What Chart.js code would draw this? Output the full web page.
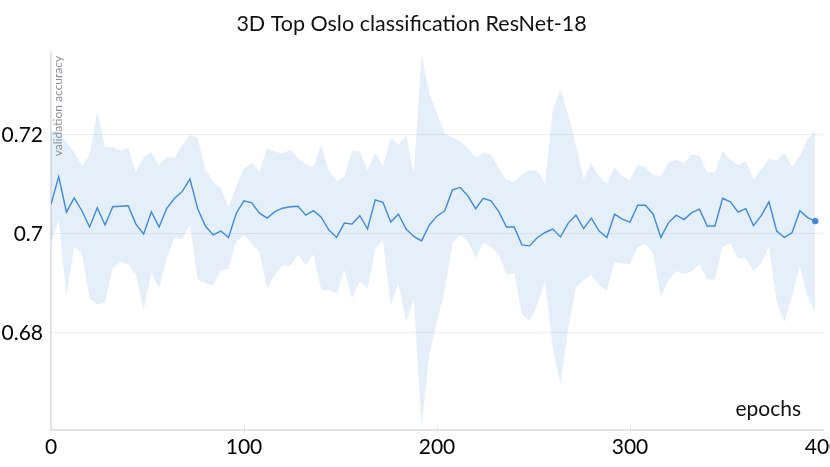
<!DOCTYPE html>
<html>
<head>
<meta charset="utf-8">
<script src="https://cdn.jsdelivr.net/npm/chart.js@4"></script>
<style>
  html, body { margin: 0; padding: 0; background: #fff; overflow: hidden; }
</style>
</head>
<body>
<canvas id="accChart" width="830" height="467"></canvas>
<script>
// validation accuracy logged every 4 epochs (mean and band edges)
const epochStep = 4;
const meanAcc = [
  0.7060, 0.7116, 0.7044, 0.7073, 0.7047, 0.7014, 0.7053, 0.7018, 0.7055, 0.7056,
  0.7057, 0.7020, 0.7000, 0.7045, 0.7014, 0.7052, 0.7072, 0.7086, 0.7111, 0.7051,
  0.7016, 0.6998, 0.7006, 0.6993, 0.7042, 0.7067, 0.7063, 0.7042, 0.7032, 0.7045,
  0.7052, 0.7055, 0.7056, 0.7038, 0.7047, 0.7034, 0.7008, 0.6993, 0.7022, 0.7020,
  0.7037, 0.7010, 0.7069, 0.7064, 0.7024, 0.7040, 0.7010, 0.6995, 0.6986, 0.7018,
  0.7036, 0.7047, 0.7089, 0.7094, 0.7077, 0.7051, 0.7072, 0.7067, 0.7045, 0.7014,
  0.7014, 0.6978, 0.6976, 0.6993, 0.7003, 0.7010, 0.6994, 0.7022, 0.7038, 0.7011,
  0.7032, 0.7006, 0.6993, 0.7040, 0.7030, 0.7024, 0.7058, 0.7058, 0.7040, 0.6993,
  0.7023, 0.7038, 0.7029, 0.7043, 0.7050, 0.7016, 0.7016, 0.7072, 0.7065, 0.7044,
  0.7051, 0.7017, 0.7037, 0.7065, 0.7006, 0.6993, 0.7003, 0.7047, 0.7033, 0.7026
];
const upperAcc = [
  0.7207, 0.7210, 0.7185, 0.7166, 0.7138, 0.7160, 0.7247, 0.7175, 0.7176, 0.7168,
  0.7174, 0.7125, 0.7156, 0.7165, 0.7139, 0.7156, 0.7153, 0.7180, 0.7201, 0.7195,
  0.7129, 0.7106, 0.7092, 0.7055, 0.7096, 0.7133, 0.7143, 0.7125, 0.7173, 0.7166,
  0.7163, 0.7170, 0.7153, 0.7141, 0.7136, 0.7180, 0.7126, 0.7107, 0.7116, 0.7168,
  0.7166, 0.7129, 0.7164, 0.7137, 0.7193, 0.7180, 0.7199, 0.7123, 0.7363, 0.7284,
  0.7244, 0.7203, 0.7195, 0.7187, 0.7173, 0.7153, 0.7164, 0.7160, 0.7133, 0.7109,
  0.7106, 0.7119, 0.7129, 0.7127, 0.7102, 0.7251, 0.7292, 0.7240, 0.7180, 0.7111,
  0.7143, 0.7116, 0.7102, 0.7135, 0.7117, 0.7109, 0.7141, 0.7135, 0.7119, 0.7116,
  0.7145, 0.7150, 0.7143, 0.7160, 0.7158, 0.7124, 0.7124, 0.7168, 0.7150, 0.7139,
  0.7148, 0.7110, 0.7131, 0.7152, 0.7148, 0.7164, 0.7136, 0.7158, 0.7191, 0.7210
];
const lowerAcc = [
  0.6981, 0.7028, 0.6875, 0.6974, 0.6961, 0.6870, 0.6857, 0.6863, 0.6931, 0.6944,
  0.6939, 0.6917, 0.6847, 0.6921, 0.6890, 0.6951, 0.6993, 0.6989, 0.7018, 0.6908,
  0.6900, 0.6896, 0.6927, 0.6929, 0.6984, 0.6998, 0.6981, 0.6963, 0.6890, 0.6917,
  0.6937, 0.6936, 0.6958, 0.6937, 0.6959, 0.6887, 0.6887, 0.6880, 0.6927, 0.6870,
  0.6904, 0.6890, 0.6970, 0.6988, 0.6857, 0.6900, 0.6823, 0.6867, 0.6611, 0.6756,
  0.6823, 0.6884, 0.6981, 0.6998, 0.6985, 0.6952, 0.6981, 0.6974, 0.6958, 0.6917,
  0.6921, 0.6838, 0.6824, 0.6857, 0.6905, 0.6769, 0.6696, 0.6809, 0.6892, 0.6907,
  0.6917, 0.6897, 0.6885, 0.6944, 0.6941, 0.6939, 0.6974, 0.6980, 0.6961, 0.6873,
  0.6907, 0.6925, 0.6919, 0.6924, 0.6939, 0.6908, 0.6908, 0.6974, 0.6981, 0.6951,
  0.6951, 0.6925, 0.6941, 0.6974, 0.6863, 0.6822, 0.6873, 0.6935, 0.6873, 0.6843
];
const xTicks = [0, 100, 200, 300, 400];
const yTicks = [0.68, 0.7, 0.72];

const toPoints = arr => arr.map((v, i) => ({ x: i * epochStep, y: v }));

const tickFont = { family: 'Lato', size: 21 };

// axis notes drawn inside the plot like the original export
const notesPlugin = {
  id: 'notes',
  afterDraw(chart) {
    const { ctx, chartArea: a, scales: { x } } = chart;
    ctx.save();
    ctx.strokeStyle = '#dfe2e6';
    ctx.lineWidth = 1;
    xTicks.filter(v => v > x.min && v < x.max).forEach(v => {
      const px = Math.round(x.getPixelForValue(v)) + 0.5;
      ctx.beginPath();
      ctx.moveTo(px, a.bottom - 5);
      ctx.lineTo(px, a.bottom + 4);
      ctx.stroke();
    });

    ctx.fillStyle = '#8c9096';
    ctx.font = '12px Lato';
    ctx.translate(a.left + 7, a.top + 3);
    ctx.rotate(-Math.PI / 2);
    ctx.textAlign = 'right';
    ctx.textBaseline = 'middle';
    ctx.fillText('validation accuracy', 0, 0);
    ctx.restore();

    ctx.save();
    ctx.fillStyle = '#111';
    ctx.font = '21px Lato';
    ctx.textAlign = 'right';
    ctx.textBaseline = 'alphabetic';
    ctx.fillText('epochs', a.right - 22, a.bottom - 14);
    ctx.restore();
  }
};

const ctx = document.getElementById('accChart');
new Chart(ctx, {
  type: 'line',
  data: {
    datasets: [{
      label: 'mean',
      data: toPoints(meanAcc),
      borderColor: '#3f8ada',
      backgroundColor: '#3f8ada',
      borderWidth: 1.4,
      tension: 0,
      fill: false,
      pointRadius: c => c.dataIndex === meanAcc.length - 1 ? 2.5 : 0,
      order: 0
    }, {
      label: 'upper',
      data: toPoints(upperAcc),
      borderWidth: 0,
      pointRadius: 0,
      tension: 0,
      backgroundColor: 'rgba(74, 143, 220, 0.14)',
      fill: '+1',
      order: 1
    }, {
      label: 'lower',
      data: toPoints(lowerAcc),
      borderWidth: 0,
      pointRadius: 0,
      tension: 0,
      fill: false,
      order: 1
    }]
  },
  options: {
    responsive: false,
    animation: false,
    layout: { padding: { left: 0, right: 7, top: 0, bottom: 0 } },
    plugins: {
      legend: { display: false },
      tooltip: { enabled: false },
      title: {
        display: true,
        text: '3D Top Oslo classification ResNet-18',
        color: '#111',
        font: { family: 'Lato', size: 21.5, weight: 'normal' },
        padding: { top: 11, bottom: 16 }
      }
    },
    scales: {
      x: {
        type: 'linear',
        min: 0,
        max: 400,
        grid: { display: true, drawOnChartArea: false, drawTicks: false },
        border: { display: true, color: '#e1e4e8', width: 2 },
        ticks: {
          autoSkip: false,
          maxRotation: 0,
          padding: 5,
          color: '#000',
          font: tickFont,
          callback: v => String(v)
        },
        afterBuildTicks: s => { s.ticks = xTicks.map(v => ({ value: v })); },
        afterFit: s => { s.paddingLeft = 0; s.paddingRight = 0; s.height = 37; }
      },
      y: {
        min: 0.6604,
        max: 0.7366,
        grid: { color: '#efefef', lineWidth: 1, drawTicks: false },
        border: { display: true, color: '#e1e4e8', width: 2 },
        ticks: {
          padding: 8,
          color: '#000',
          font: tickFont,
          callback: v => String(v)
        },
        afterBuildTicks: s => { s.ticks = yTicks.map(v => ({ value: v })); },
        afterFit: s => { s.width = 51; }
      }
    }
  },
  plugins: [notesPlugin]
});
</script>
</body>
</html>
